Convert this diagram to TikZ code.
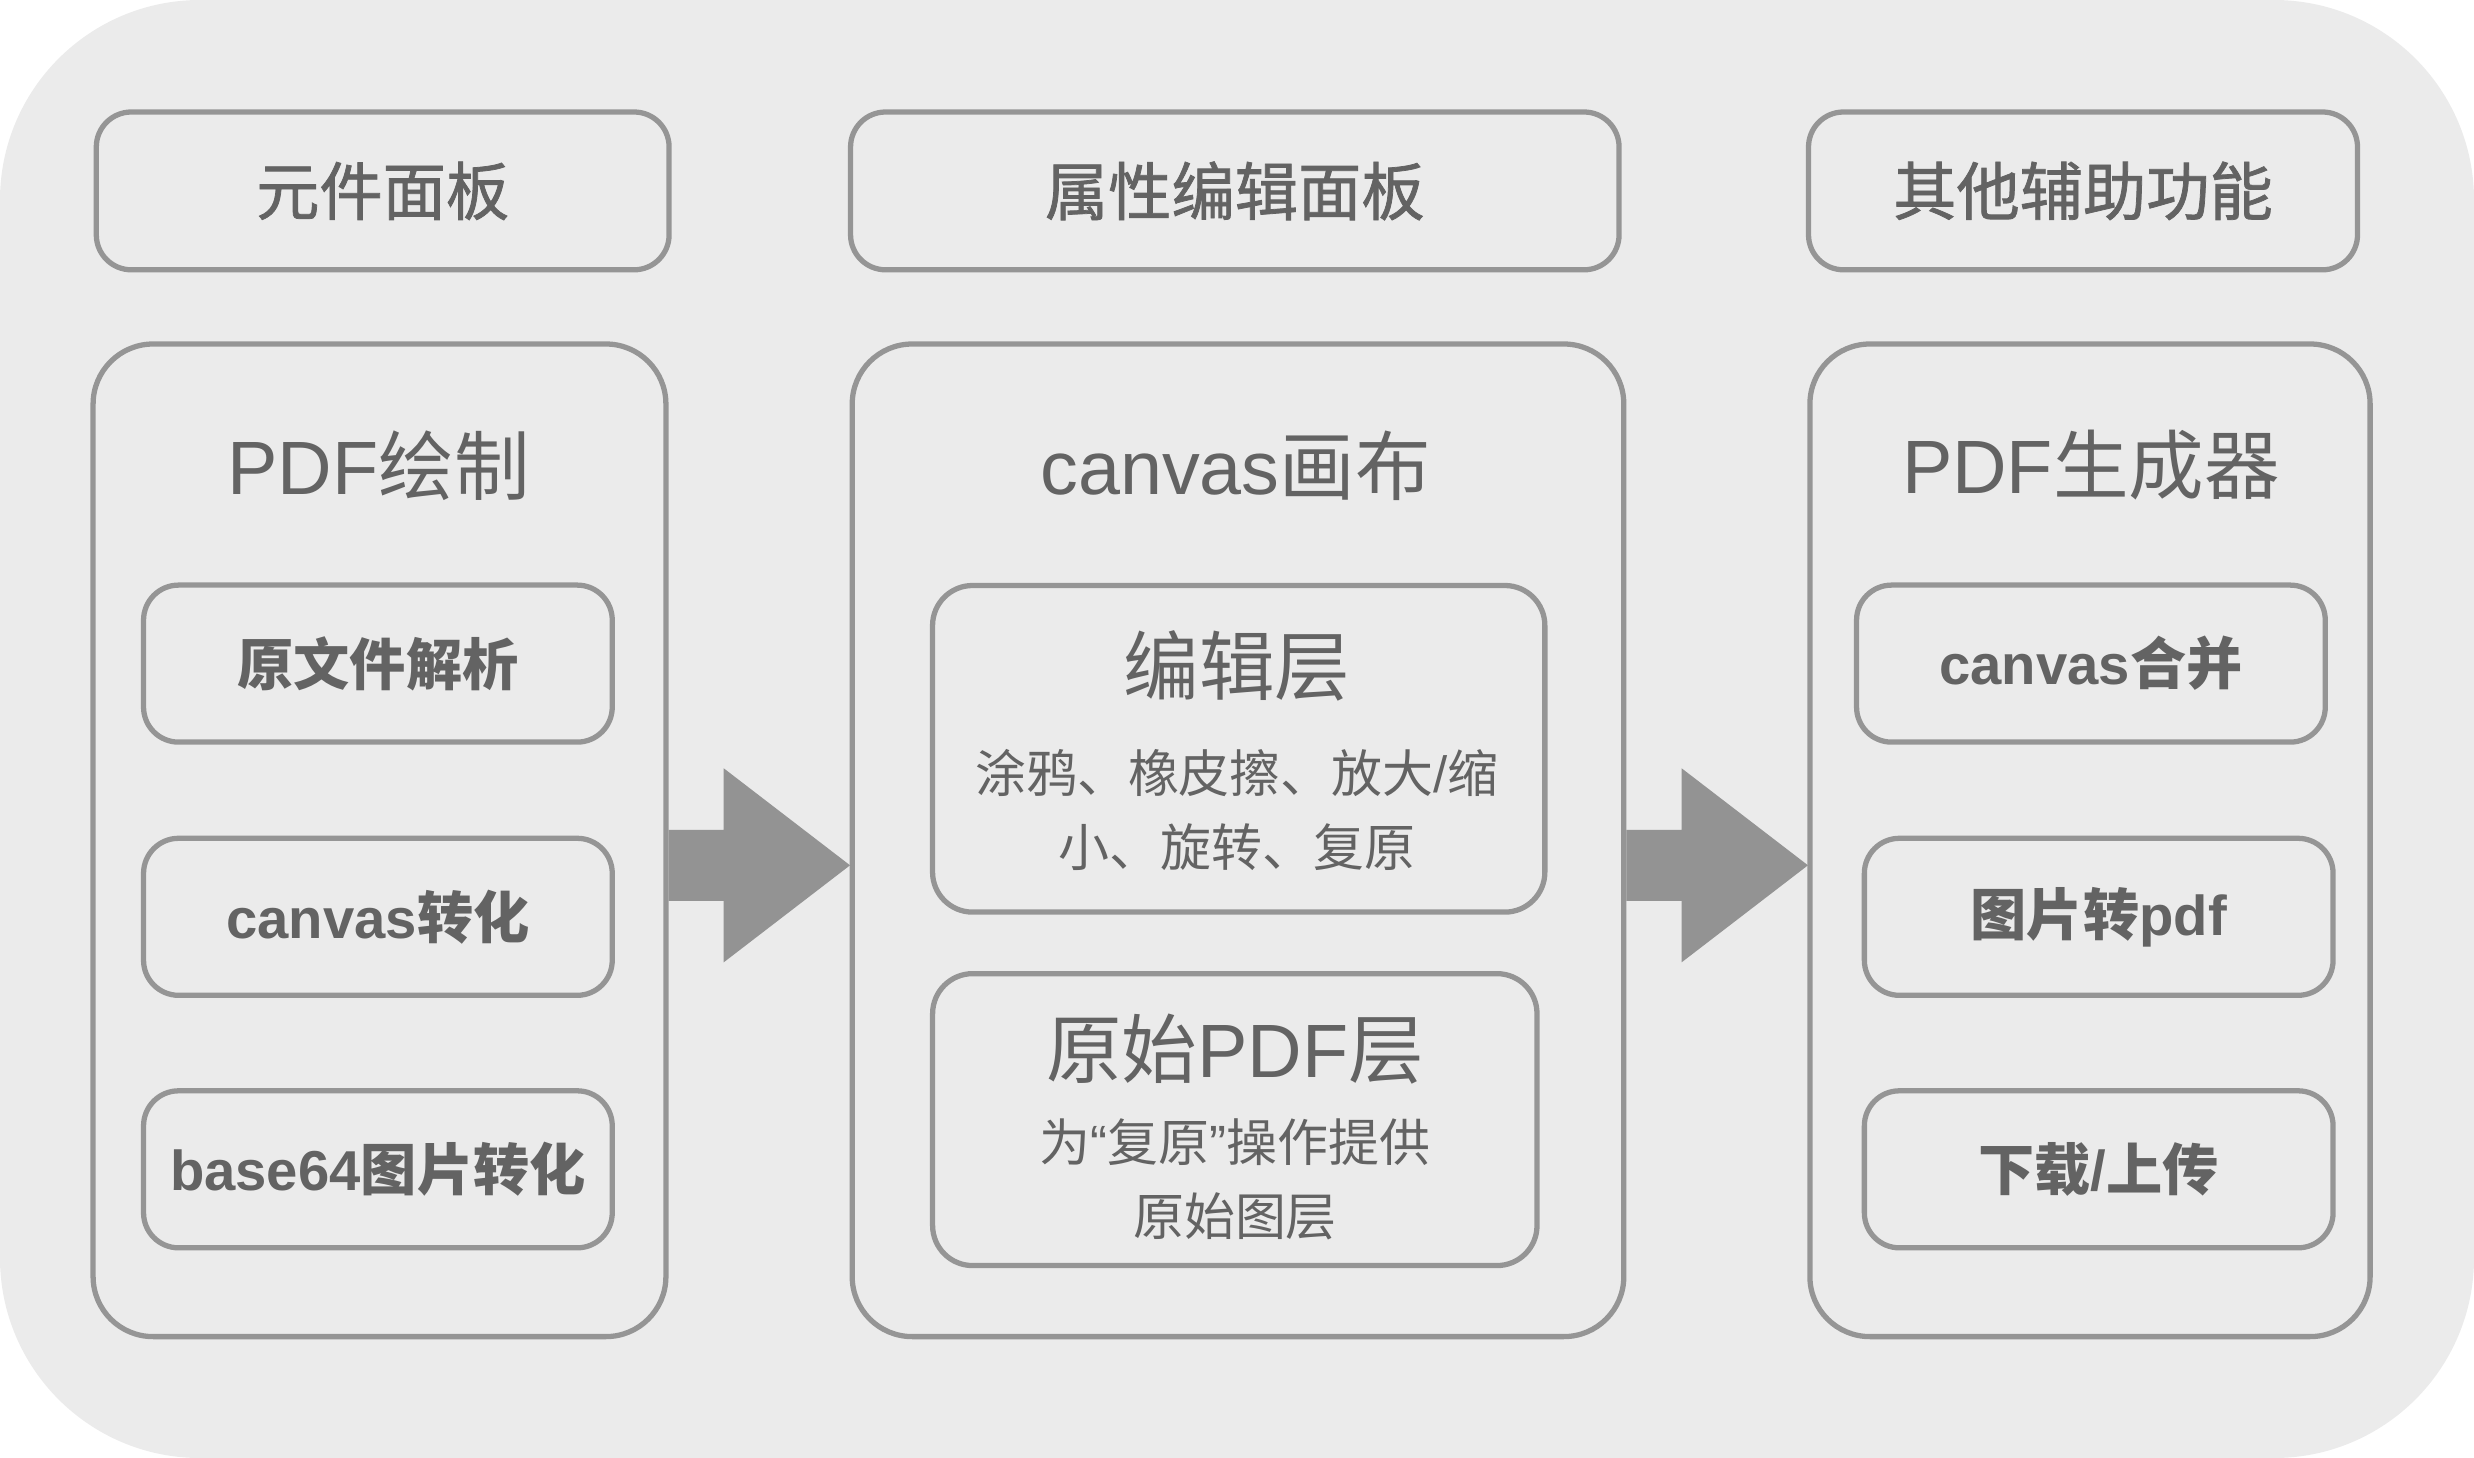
\documentclass[tikz,border=0pt]{standalone}
\usepackage{fontspec}
\setmainfont{Noto Sans CJK SC}
\newfontfamily\latin{Liberation Sans}
\newfontfamily\medium{Noto Sans CJK SC}[FakeBold=1.2]
\usepackage{tikz}
\usetikzlibrary{calc,positioning}
\definecolor{bgGray}{HTML}{EBEBEB}
\definecolor{lineGray}{HTML}{959595}
\definecolor{txtGray}{HTML}{636363}
\definecolor{arrowGray}{HTML}{939393}

\begin{document}
\begin{tikzpicture}[
    panel/.style={draw=lineGray, line width=1.5pt, rounded corners=0.35cm, text=txtGray, font=\medium\fontsize{18}{22}\selectfont, minimum height=1.578cm, inner sep=0pt},
    column/.style={draw=lineGray, line width=1.5pt, rounded corners=0.6cm, minimum height=9.926cm, inner sep=0pt},
    item/.style={draw=lineGray, line width=1.5pt, rounded corners=0.35cm, text=txtGray, font=\bfseries\fontsize{16}{20}\selectfont, minimum width=4.687cm, minimum height=1.57cm, inner sep=0pt},
    layer/.style={draw=lineGray, line width=1.5pt, rounded corners=0.4cm, inner sep=0pt},
    coltitle/.style={text=txtGray, font=\fontsize{21.5}{26}\selectfont, inner sep=0pt},
    layertitle/.style={text=txtGray, font=\fontsize{21.5}{26}\selectfont, inner sep=0pt},
    desc/.style={text=txtGray, font=\fontsize{14.5}{21}\selectfont, align=center, inner sep=0pt},
    bigarrow/.style={fill=arrowGray}
]
    % background
    \fill[bgGray, rounded corners=2cm] (0,0) rectangle (24.74,-14.58);

    % top panels
    \node[panel, minimum width=5.728cm] (parts) at (3.827,-1.909) {元件面板};
    \node[panel, minimum width=7.685cm] (props) at (12.348,-1.909) {属性编辑面板};
    \node[panel, minimum width=5.49cm] (tools) at (20.83,-1.909) {其他辅助功能};

    % columns
    \node[column, minimum width=5.728cm] (pdfdraw) at (3.795,-8.403) {};
    \node[column, minimum width=7.716cm] (canvas) at (12.38,-8.403) {};
    \node[column, minimum width=5.602cm] (pdfgen) at (20.9,-8.403) {};

    \node[coltitle] (pdfdrawtitle) at (3.787,-4.655) {{\latin PDF}绘制};
    \node[coltitle] (canvastitle) at (12.356,-4.655) {{\latin canvas}画布};
    \node[coltitle] (pdfgentitle) at (20.909,-4.655) {{\latin PDF}生成器};

    % left column
    \node[item] (parse) at (3.779,-6.636) {原文件解析};
    \node[item] (tocanvas) at (3.779,-9.168) {{\latin canvas}转化};
    \node[item] (tobase) at (3.779,-11.693) {{\latin base64}图片转化};

    % middle column
    \node[layer, minimum width=6.123cm, minimum height=3.266cm] (editlayer) at (12.387,-7.488) {};
    \node[layertitle] (edittitle) at (12.37,-6.659) {编辑层};
    \node[desc] (editdesc) at (12.37,-8.103) {涂鸦、橡皮擦、放大{\latin /}缩\\小、旋转、复原};

    \node[layer, minimum width=6.044cm, minimum height=2.919cm] (origlayer) at (12.348,-11.196) {};
    \node[layertitle] (origtitle) at (12.35,-10.494) {原始{\latin PDF}层};
    \node[desc] (origdesc) at (12.35,-11.795) {为{\latin “}复原{\latin ”}操作提供\\原始图层};

    % right column
    \node[item] (merge) at (20.909,-6.636) {{\latin canvas}合并};
    \node[item] (topdf) at (20.987,-9.168) {图片转{\latin pdf}};
    \node[item] (load) at (20.987,-11.693) {下载{\latin /}上传};

    % arrows
    \fill[bigarrow] ($(pdfdraw.east)+(0,-0.25)$) ++(0,0.355) -- ++(0.552,0) -- ++(0,0.615) -- ++(1.263,-0.97) -- ++(-1.263,-0.97) -- ++(0,0.615) -- ++(-0.552,0) -- cycle;
    \fill[bigarrow] ($(canvas.east)+(0,-0.25)$) ++(0,0.355) -- ++(0.552,0) -- ++(0,0.615) -- ++(1.263,-0.97) -- ++(-1.263,-0.97) -- ++(0,0.615) -- ++(-0.552,0) -- cycle;
\end{tikzpicture}
\end{document}
